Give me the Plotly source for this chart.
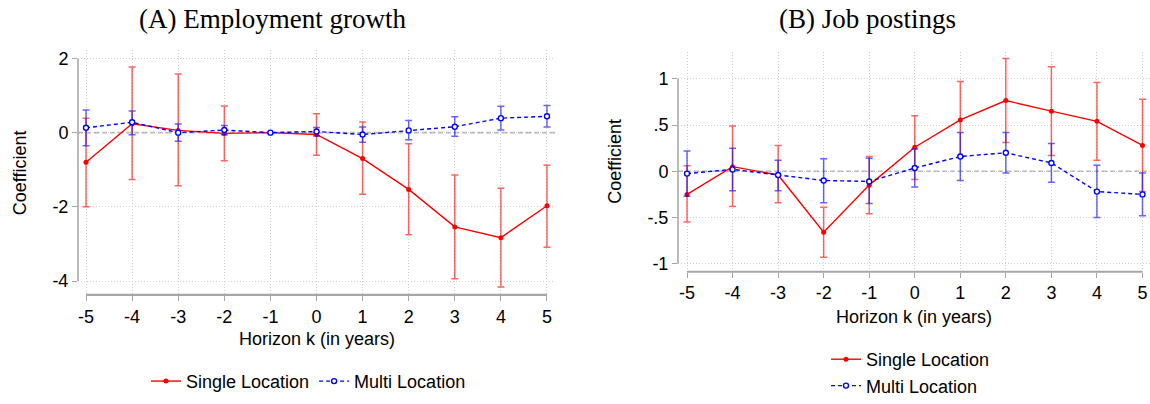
import plotly.graph_objects as go

# ---------------- data ----------------
horizon = [-5, -4, -3, -2, -1, 0, 1, 2, 3, 4, 5]
x_tick_labels = ["-5", "-4", "-3", "-2", "-1", "0", "1", "2", "3", "4", "5"]

# Panel A: Employment growth
a_single_coef = [-0.80, 0.24, 0.06, -0.02, 0.00, -0.05, -0.70, -1.53, -2.54, -2.83, -1.97]
a_single_lo   = [-2.00, -1.26, -1.43, -0.76, 0.00, -0.61, -1.66, -2.75, -3.94, -4.16, -3.09]
a_single_hi   = [0.39, 1.77, 1.58, 0.72, 0.00, 0.51, 0.29, -0.30, -1.14, -1.50, -0.88]
a_multi_coef  = [0.13, 0.28, 0.00, 0.07, 0.00, 0.03, -0.05, 0.06, 0.16, 0.39, 0.44]
a_multi_lo    = [-0.35, -0.06, -0.23, -0.06, 0.00, -0.09, -0.26, -0.19, -0.10, 0.07, 0.15]
a_multi_hi    = [0.61, 0.58, 0.23, 0.19, 0.00, 0.14, 0.15, 0.33, 0.43, 0.71, 0.73]
a_y_ticks = [-4, -2, 0, 2]
a_y_tick_labels = ["-4", "-2", "0", "2"]

# Panel B: Job postings
b_single_coef = [-0.25, 0.05, -0.04, -0.66, -0.15, 0.26, 0.555, 0.765, 0.65, 0.54, 0.28]
b_single_lo   = [-0.55, -0.38, -0.34, -0.93, -0.46, -0.09, 0.15, 0.31, 0.17, 0.12, -0.22]
b_single_hi   = [0.06, 0.49, 0.28, -0.39, 0.16, 0.60, 0.97, 1.22, 1.13, 0.96, 0.78]
b_multi_coef  = [-0.025, 0.02, -0.04, -0.10, -0.11, 0.035, 0.16, 0.20, 0.09, -0.22, -0.25]
b_multi_lo    = [-0.27, -0.21, -0.21, -0.34, -0.35, -0.17, -0.10, -0.02, -0.12, -0.50, -0.48]
b_multi_hi    = [0.22, 0.25, 0.12, 0.135, 0.14, 0.24, 0.42, 0.42, 0.30, 0.065, -0.02]
b_y_ticks = [-1, -0.5, 0, 0.5, 1]
b_y_tick_labels = ["-1", "-.5", "0", ".5", "1"]

series_names = ["Single Location", "Multi Location"]
panel_titles = ["(A) Employment growth", "(B) Job postings"]
x_title = "Horizon k (in years)"
y_title = "Coefficient"

# ---------------- style ----------------
W, H = 1150, 404
SANS = "Liberation Sans, Arial, sans-serif"
SERIF = "Liberation Serif, Times New Roman, serif"
RED = "#ff0000"
BLUE = "#0000ff"
RED_CI = "rgba(255,0,0,0.6)"
BLUE_CI = "rgba(0,0,255,0.6)"
GRID = "#cfcfcf"
AXIS = "#a6a6a6"
TXT = "#000000"


def px(v):
    return v / W


def py(v):
    return (H - v) / H


def err(coef, lo, hi):
    plus = [h - c for c, h in zip(coef, hi)]
    minus = [c - l for c, l in zip(coef, lo)]
    return plus, minus


fig = go.Figure()


def add_panel(xa, ya, legend, s_coef, s_lo, s_hi, m_coef, m_lo, m_hi):
    sp, sm = err(s_coef, s_lo, s_hi)
    mp, mm = err(m_coef, m_lo, m_hi)
    fig.add_trace(go.Scatter(
        x=horizon, y=s_coef, mode="lines+markers", name=series_names[0],
        xaxis=xa, yaxis=ya, legend=legend,
        line=dict(color=RED, width=1.4),
        marker=dict(color=RED, size=5, symbol="circle"),
        error_y=dict(type="data", array=sp, arrayminus=sm, color=RED_CI,
                     thickness=1.5, width=3.5),
        hoverinfo="skip"))
    fig.add_trace(go.Scatter(
        x=horizon, y=m_coef, mode="lines+markers", name=series_names[1],
        xaxis=xa, yaxis=ya, legend=legend,
        line=dict(color=BLUE, width=1.4, dash="4px,3px"),
        marker=dict(color="white", size=5, symbol="circle",
                    line=dict(color=BLUE, width=1.4)),
        error_y=dict(type="data", array=mp, arrayminus=mm, color=BLUE_CI,
                     thickness=1.5, width=3.5),
        hoverinfo="skip"))


add_panel("x", "y", "legend", a_single_coef, a_single_lo, a_single_hi,
          a_multi_coef, a_multi_lo, a_multi_hi)
add_panel("x2", "y2", "legend2", b_single_coef, b_single_lo, b_single_hi,
          b_multi_coef, b_multi_lo, b_multi_hi)

common_x = dict(
    tickmode="array", tickvals=horizon, ticktext=x_tick_labels,
    showgrid=True, gridcolor=GRID, griddash="1px,2px", gridwidth=1,
    zeroline=False, showline=False,
    ticks="outside", ticklen=5, tickwidth=1, tickcolor=AXIS,
    tickfont=dict(family=SANS, size=18, color=TXT),
    fixedrange=True,
)
common_y = dict(
    showgrid=True, gridcolor=GRID, griddash="1px,2px", gridwidth=1,
    zeroline=False, showline=False,
    ticks="outside", ticklen=5, tickwidth=1, tickcolor=AXIS,
    tickfont=dict(family=SANS, size=18, color=TXT),
    fixedrange=True,
)

# Panel A geometry
ax0, ax1 = 78, 555
ay_top, ay_bot = 50, 302.7
# Panel B geometry
bx0, bx1 = 678, 1150
by_top, by_bot = 51.7, 278.7

fig.update_layout(
    width=W, height=H,
    margin=dict(l=0, r=0, t=0, b=0),
    paper_bgcolor="white", plot_bgcolor="white",
    xaxis=dict(domain=[px(ax0), px(ax1)], range=[-5.174, 5.174], anchor="y", **common_x),
    yaxis=dict(domain=[py(ay_bot), py(ay_top)], range=[-4.375, 2.217], anchor="x",
               tickmode="array", tickvals=a_y_ticks, ticktext=a_y_tick_labels, **common_y),
    xaxis2=dict(domain=[px(bx0), 1.0], range=[-5.198, 5.165], anchor="y2", **common_x),
    yaxis2=dict(domain=[py(by_bot), py(by_top)], range=[-1.087, 1.29], anchor="x2",
                tickmode="array", tickvals=b_y_ticks, ticktext=b_y_tick_labels, **common_y),
    showlegend=True,
    legend=dict(orientation="h", x=px(146), xanchor="left", y=py(392), yanchor="middle",
                font=dict(family=SANS, size=18, color=TXT), bgcolor="rgba(0,0,0,0)",
                itemwidth=30, traceorder="normal"),
    legend2=dict(orientation="v", x=px(826), xanchor="left", y=py(383), yanchor="middle",
                 font=dict(family=SANS, size=18, color=TXT), bgcolor="rgba(0,0,0,0)",
                 itemwidth=30, traceorder="normal", tracegroupgap=0),
)

shapes = []
for xa, ya, ylo, yhi in [("x", "y", a_y_ticks[0], a_y_ticks[-1]),
                         ("x2", "y2", b_y_ticks[0], b_y_ticks[-1])]:
    # zero reference line
    shapes.append(dict(type="line", xref=f"{xa} domain", yref=ya, x0=0, x1=1, y0=0, y1=0,
                       line=dict(color="#b4b4b4", width=1.6, dash="5px,3px"), layer="below"))
    # x axis line (spans the first to the last tick)
    shapes.append(dict(type="line", xref=xa, yref=f"{ya} domain", x0=horizon[0], x1=horizon[-1],
                       y0=0, y1=0, line=dict(color=AXIS, width=2.2), layer="above"))
    # y axis line (spans the first to the last tick)
    shapes.append(dict(type="line", xref=f"{xa} domain", yref=ya, x0=0, x1=0, y0=ylo, y1=yhi,
                       line=dict(color="#8c8c8c", width=1.2), layer="above"))
fig.update_layout(shapes=shapes)

ann = [
    dict(text=panel_titles[0], x=px(272), y=py(18), xref="paper", yref="paper",
         xanchor="center", yanchor="middle", showarrow=False,
         font=dict(family=SERIF, size=27, color=TXT)),
    dict(text=panel_titles[1], x=px(867), y=py(18), xref="paper", yref="paper",
         xanchor="center", yanchor="middle", showarrow=False,
         font=dict(family=SERIF, size=27, color=TXT)),
    dict(text=x_title, x=px(317), y=py(348), xref="paper", yref="paper",
         xanchor="center", yanchor="middle", showarrow=False,
         font=dict(family=SANS, size=18, color=TXT)),
    dict(text=x_title, x=px(914), y=py(325), xref="paper", yref="paper",
         xanchor="center", yanchor="middle", showarrow=False,
         font=dict(family=SANS, size=18, color=TXT)),
    dict(text=y_title, x=px(20), y=py(177), xref="paper", yref="paper",
         xanchor="center", yanchor="middle", showarrow=False, textangle=-90,
         font=dict(family=SANS, size=18, color=TXT)),
    dict(text=y_title, x=px(615), y=py(165), xref="paper", yref="paper",
         xanchor="center", yanchor="middle", showarrow=False, textangle=-90,
         font=dict(family=SANS, size=18, color=TXT)),
]
fig.update_layout(annotations=ann)

fig.write_html("out.html")
